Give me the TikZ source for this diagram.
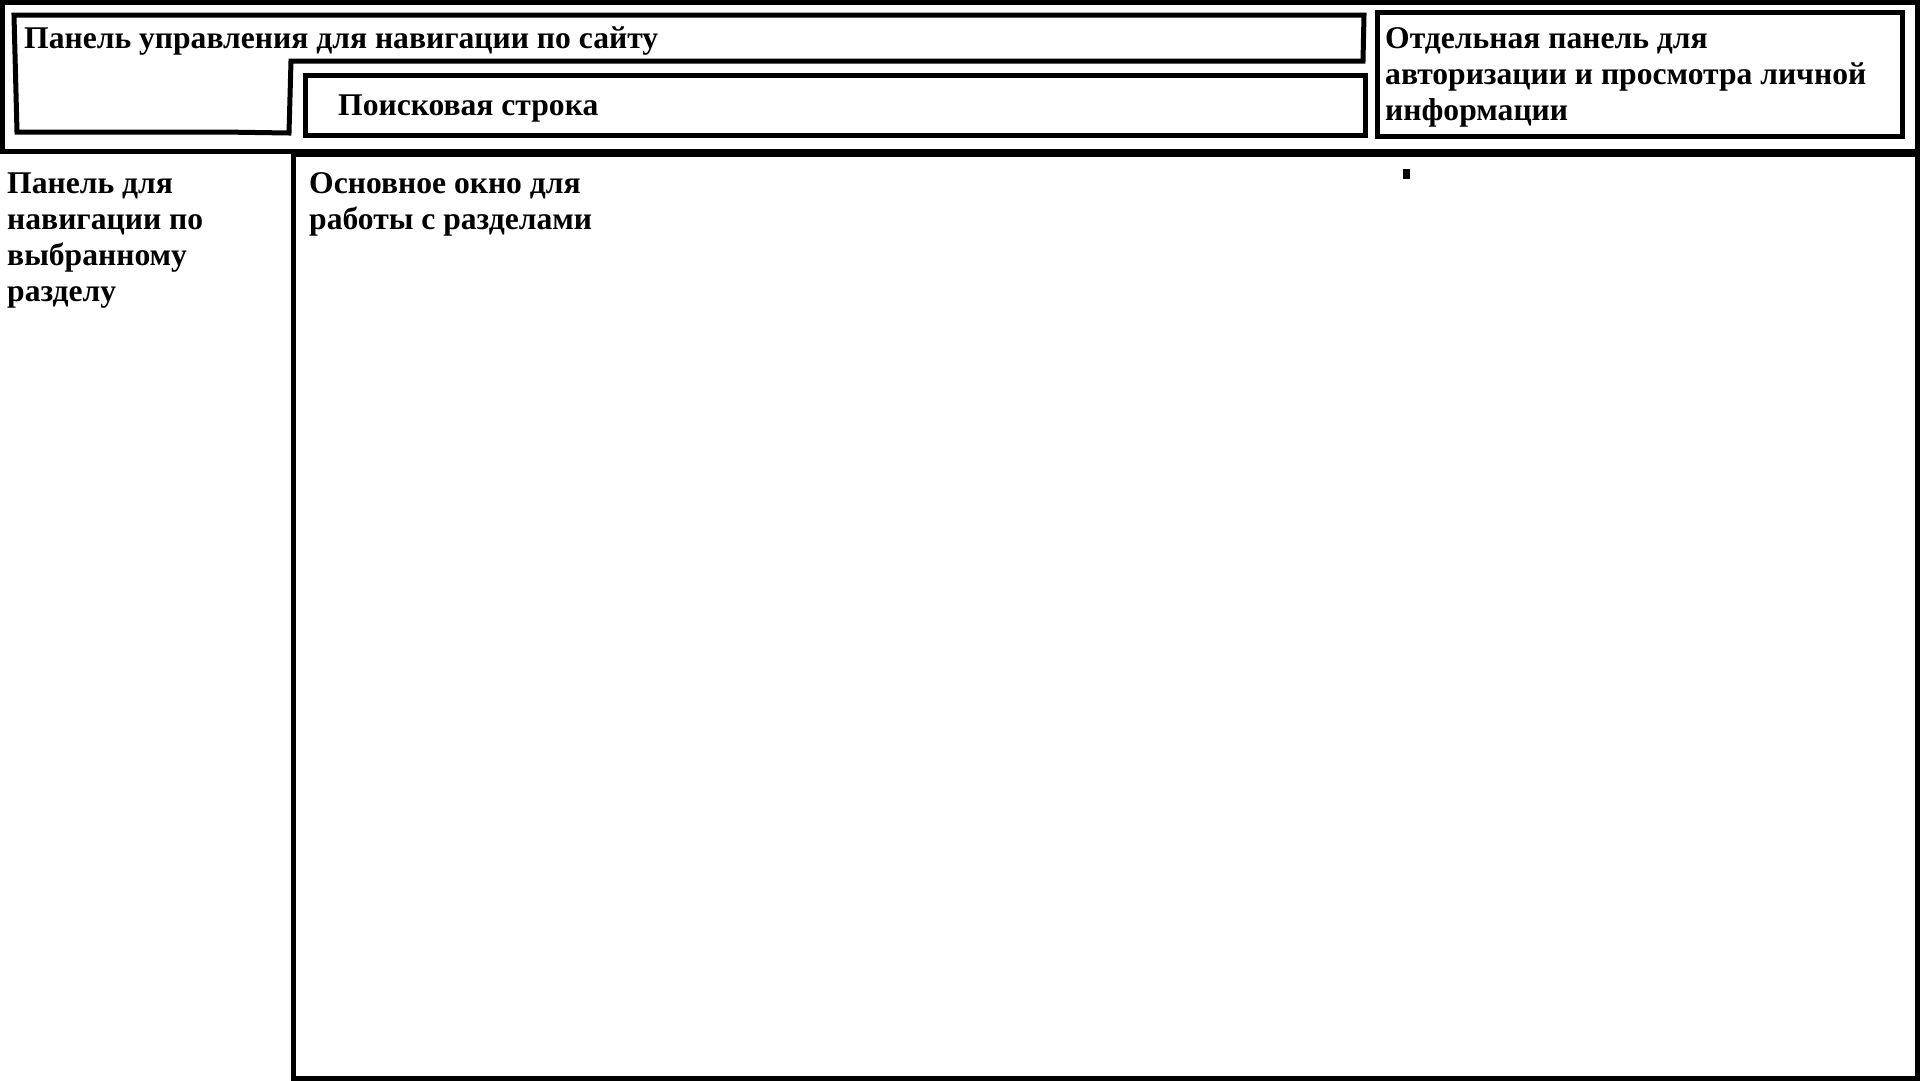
\documentclass[tikz,border=0pt]{standalone}
\usepackage{fontspec}
\setmainfont{Liberation Serif}
\begin{document}
\begin{tikzpicture}[x=1pt,y=-1pt,
  panel/.style={draw=black,line width=5pt,line join=miter},
  lbl/.style={anchor=base west,inner sep=0pt,align=left,
    font=\bfseries\fontsize{31.6}{36.3}\selectfont}]
\useasboundingbox[fill=white] (0,0) rectangle (1920,1080);
% outer top frame
\draw[panel] (2.5,2) rectangle (1917.5,151.5);
% navigation panel (irregular)
\draw[panel] (14,15) -- (1364,15) -- (1363,61) -- (291,61) -- (289,133)
  -- (222,132) -- (17,132) -- cycle;
% search box
\draw[panel] (305,75.5) rectangle (1365.5,135.5);
% auth panel
\draw[panel] (1377.5,12.5) rectangle (1902,136);
% main area
\draw[panel] (293.5,154.5) rectangle (1917.5,1078.5);
% small mark
\fill[black] (1403,169) rectangle (1410,179);
% texts (base anchor = last line baseline)
\node[lbl] (navtxt) at (24,48) {Панель управления для навигации по сайту};
\node[lbl] (searchtxt) at (338,115) {Поисковая строка};
\node[lbl] (authtxt) at (1385,120.6) {Отдельная панель для\\авторизации и просмотра личной\\информации};
\node[lbl] (sidetxt) at (7,301.9) {Панель для\\навигации по\\выбранному\\разделу};
\node[lbl] (maintxt) at (309,229.3) {Основное окно для\\работы с разделами};
\end{tikzpicture}
\end{document}
